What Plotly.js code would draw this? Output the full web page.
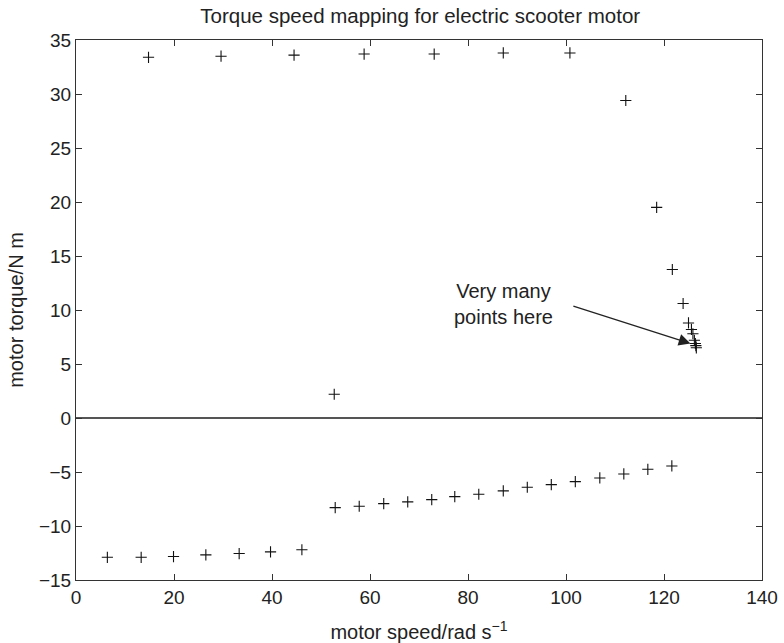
<!DOCTYPE html>
<html>
<head>
<meta charset="utf-8">
<script src="https://cdn.plot.ly/plotly-3.0.1.min.js"></script>
<style>html,body{margin:0;padding:0;background:#fff}#chart{width:784px;height:643px}</style>
</head>
<body>
<div id="chart"></div>
<script>
// Motoring (positive torque) points
const motorSpeed = [14.8, 29.6, 44.5, 58.8, 73.1, 87.2, 100.8, 112.2, 118.5, 121.7, 123.9, 125.0, 125.6, 125.9, 126.2, 126.4, 126.5, 126.6, 52.7];
const motorTorque = [33.4, 33.5, 33.6, 33.7, 33.7, 33.8, 33.8, 29.4, 19.5, 13.75, 10.6, 8.8, 8.2, 7.8, 7.2, 6.9, 6.7, 6.5, 2.2];
// Braking (negative torque) points
const brakeSpeed = [6.4, 13.3, 19.9, 26.5, 33.3, 39.7, 46.1, 52.9, 57.8, 62.8, 67.7, 72.6, 77.3, 82.2, 87.2, 92.1, 97.0, 101.9, 106.9, 111.8, 116.7, 121.6];
const brakeTorque = [-12.9, -12.9, -12.83, -12.67, -12.55, -12.4, -12.2, -8.3, -8.17, -7.93, -7.77, -7.56, -7.28, -7.06, -6.75, -6.41, -6.17, -5.89, -5.55, -5.18, -4.75, -4.44];
const xTicks = [0, 20, 40, 60, 80, 100, 120, 140];
const yTicks = [-15, -10, -5, 0, 5, 10, 15, 20, 25, 30, 35];
const noteText = 'Very many<br>points here';
const noteTip = [125.4, 6.9];
const noteTail = [101.2, 10.4];
const noteTextPos = [87.2, 10.6];

const font = 'Liberation Sans, Arial, Helvetica, sans-serif';
const mk = {symbol: 'cross-thin', size: 8, color: '#111', line: {width: 1.1, color: '#111'}};

const traces = [
  {x: motorSpeed, y: motorTorque, mode: 'markers', type: 'scatter', marker: mk, showlegend: false},
  {x: brakeSpeed, y: brakeTorque, mode: 'markers', type: 'scatter', marker: mk, showlegend: false}
];

const axisCommon = {
  showgrid: false, showline: true, linecolor: '#333', linewidth: 1,
  mirror: 'ticks', ticks: 'inside', ticklen: 6, tickcolor: '#333', tickwidth: 1,
  tickfont: {family: font, size: 19, color: '#222'}
};

const layout = {
  width: 784, height: 643,
  margin: {l: 76, r: 22, t: 40, b: 63},
  paper_bgcolor: '#fff', plot_bgcolor: '#fff',
  font: {family: font, color: '#222'},
  title: {text: 'Torque speed mapping for electric scooter motor', font: {family: font, size: 20.5, color: '#222'}, x: 0.536, xanchor: 'center', y: 0.987, yanchor: 'top'},
  xaxis: Object.assign({}, axisCommon, {
    range: [0, 140], tickvals: xTicks, ticktext: xTicks.map(String), zeroline: false,
    title: {text: 'motor speed/rad s<sup>−1</sup>', font: {family: font, size: 20, color: '#222'}, standoff: 18}
  }),
  yaxis: Object.assign({}, axisCommon, {
    range: [-15, 35], tickvals: yTicks, ticktext: yTicks.map(v => v < 0 ? '−' + Math.abs(v) : String(v)),
    zeroline: true, zerolinecolor: '#555', zerolinewidth: 1.2,
    title: {text: 'motor torque/N m', font: {family: font, size: 20, color: '#222'}, standoff: 9}
  }),
  annotations: [
    {x: noteTextPos[0], y: noteTextPos[1], xref: 'x', yref: 'y', text: noteText, showarrow: false,
     font: {family: font, size: 20, color: '#222'}, align: 'center'},
    {x: noteTip[0], y: noteTip[1], ax: noteTail[0], ay: noteTail[1], axref: 'x', ayref: 'y', xref: 'x', yref: 'y',
     text: '', showarrow: true, arrowhead: 2, arrowsize: 1.8, arrowwidth: 1.3, arrowcolor: '#222', standoff: 0}
  ]
};

Plotly.newPlot('chart', traces, layout, {displayModeBar: false, staticPlot: true});
</script>
</body>
</html>
